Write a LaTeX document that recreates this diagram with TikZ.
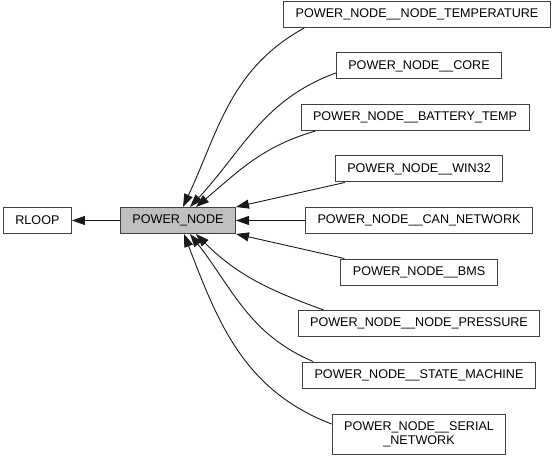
\documentclass[tikz,border=0pt]{standalone}
\usepackage{fontspec}
\setmainfont{Liberation Sans}
\usepackage{xcolor}
\usepackage{tikz}
\usetikzlibrary{positioning,arrows.meta}

\definecolor{boxline}{HTML}{404040}
\definecolor{curfill}{HTML}{BFBFBF}

\begin{document}
\begin{tikzpicture}[
  box/.style={draw=boxline, line width=1pt, rectangle, minimum height=26pt,
    inner xsep=12pt, inner ysep=2pt, align=center,
    font=\fontsize{12.6}{14}\selectfont},
  edge/.style={draw=black!90, line width=0.9pt, -{Triangle[length=13pt,width=9pt]}},
  node distance=24.5pt
]
\useasboundingbox (-178pt,-237.5pt) rectangle (382pt,220.5pt);

\node[box, fill=curfill](pn)                        {POWER\_NODE};
\node[box](rloop)  [left = 48pt of pn]              {RLOOP};
\node[box](can)    [right = 69pt of pn]             {POWER\_NODE\_\_CAN\_NETWORK};
\node[box](win)    [above = of can]                 {POWER\_NODE\_\_WIN32};
\node[box](batt)   [above = of win, xshift=-4pt]    {POWER\_NODE\_\_BATTERY\_TEMP};
\node[box](core)   [above = of batt, xshift=4pt]    {POWER\_NODE\_\_CORE};
\node[box](temp)   [above = of core, xshift=-2pt]   {POWER\_NODE\_\_NODE\_TEMPERATURE};
\node[box](bms)    [below = of can]                 {POWER\_NODE\_\_BMS};
\node[box](pres)   [below = of bms]                 {POWER\_NODE\_\_NODE\_PRESSURE};
\node[box](state)  [below = of pres]                {POWER\_NODE\_\_STATE\_MACHINE};
\node[box, minimum height=40pt](ser) [below = 25pt of state] {POWER\_NODE\_\_SERIAL\\\_NETWORK};

% upper group
\draw[edge] ([xshift=21pt]temp.south west) to[out=209,in=65] ([xshift=5pt]pn.north);
\draw[edge] ([yshift=-7pt]core.west) to[out=200,in=47] ([xshift=12pt]pn.north);
\draw[edge] ([xshift=15pt]batt.south west) to[out=196,in=40] ([xshift=18pt]pn.north);
\draw[edge] ([xshift=10pt]win.south west) -- (pn.north east);
% straight ones
\draw[edge] (can) -- (pn);
\draw[edge] (pn) -- (rloop);
\draw[edge] ([xshift=4pt]bms.north west) -- (pn.south east);
% lower group
\draw[edge] ([xshift=26pt]pres.north west) to[out=160,in=-45] ([xshift=18pt]pn.south);
\draw[edge] ([xshift=11pt]state.north west) to[out=157,in=-52] ([xshift=12pt]pn.south);
\draw[edge] ([yshift=10pt]ser.west) to[out=159,in=-69] ([xshift=6pt]pn.south);
\end{tikzpicture}
\end{document}
